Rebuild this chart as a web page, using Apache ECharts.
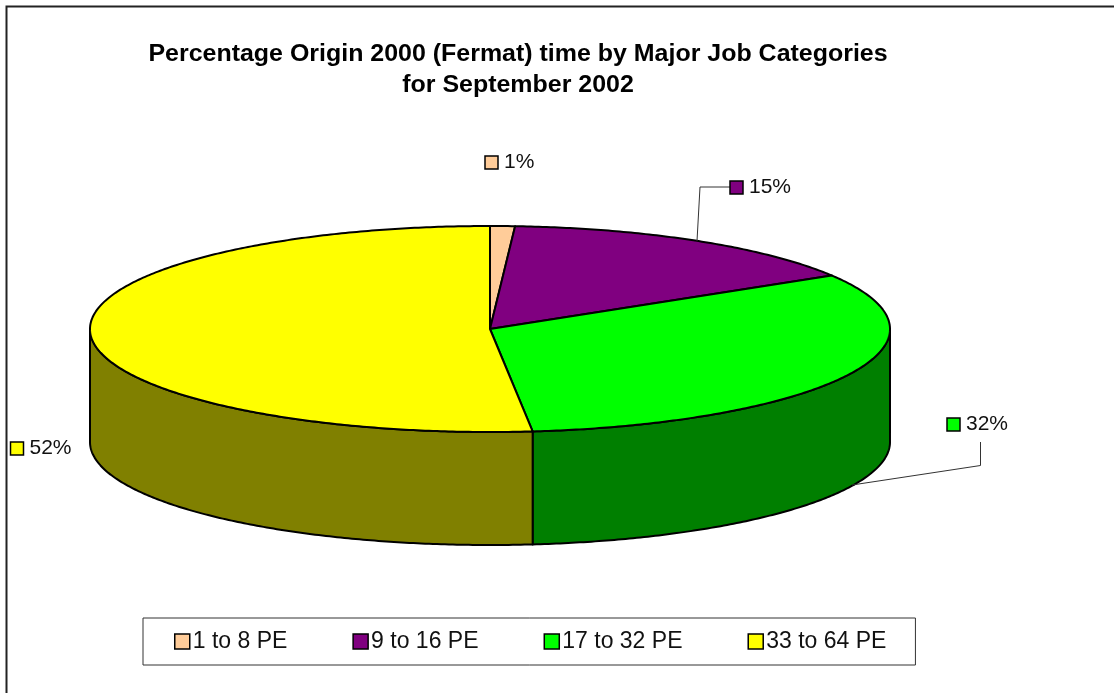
<!DOCTYPE html>
<html><head><meta charset="utf-8">
<style>html,body{margin:0;padding:0;background:#fff}#c{width:1114px;height:693px}</style>
<script src="https://cdn.jsdelivr.net/npm/echarts@6/dist/echarts.min.js"></script>
</head><body><div id="c"></div>
<script>
const categories = ['1 to 8 PE','9 to 16 PE','17 to 32 PE','33 to 64 PE'];
const values = [1.0, 15.3, 32.0, 51.7];
const percentLabels = ['1%','15%','32%','52%'];
const topColors = ['#FFCC99','#800080','#00FF00','#FFFF00'];
const wallColors = ['#7F6650','#400040','#007F00','#808000'];
const titleLines = ['Percentage Origin 2000 (Fermat) time by Major Job Categories','for September 2002'];

const cx=490, cy=329, rx=400, ry=103, depth=113;
const total = values.reduce((a,b)=>a+b,0);
let run=0;
const spans = values.map(v=>{const s=run/total*2*Math.PI; run+=v; return [s,run/total*2*Math.PI];});
const pt=(a,dy)=>[cx+rx*Math.sin(a), cy-ry*Math.cos(a)+(dy||0)];
function arc(a0,a1,dy){const n=Math.max(2,Math.ceil((a1-a0)/0.01));const o=[];for(let i=0;i<=n;i++)o.push(pt(a0+(a1-a0)*i/n,dy));return o;}
const labelPos=[[485,156],[730,181],[947,418],[10.5,442]];
const leaders=[null,[[730,187],[700,187],[697,241]],[[980.5,442],[980.5,465.5],[852,485]],null];

const series = categories.map((name,i)=>({
  type:'custom', name, coordinateSystem:'none', silent:true,
  itemStyle:{color:topColors[i],borderColor:'#000',borderWidth:1.5},
  data:[[values[i]]],
  renderItem(){
    const [a0,a1]=spans[i]; const children=[];
    const w0=Math.max(a0,Math.PI/2), w1=Math.min(a1,3*Math.PI/2);
    const line={stroke:'#000',lineWidth:2,lineJoin:'round'};
    if(w1>w0){
      const pts=arc(w0,w1,0).concat(arc(w0,w1,depth).reverse());
      children.push({type:'polygon',shape:{points:pts},style:{fill:wallColors[i],...line}});
    }
    children.push({type:'polygon',shape:{points:[[cx,cy]].concat(arc(a0,a1,0))},style:{fill:topColors[i],...line}});
    if(leaders[i])children.push({type:'polyline',shape:{points:leaders[i]},style:{fill:'none',stroke:'#333',lineWidth:1}});
    const [lx,ly]=labelPos[i];
    children.push({type:'rect',shape:{x:lx,y:ly,width:13,height:13},style:{fill:topColors[i],stroke:'#000',lineWidth:1.5}});
    children.push({type:'text',style:{x:lx+19,y:ly+6,text:percentLabels[i],fill:'#111',font:'21px "Liberation Sans"',verticalAlign:'middle',align:'left'}});
    return {type:'group',children};
  }
}));

const chart=echarts.init(document.getElementById('c'));
chart.setOption({
  animation:false,
  backgroundColor:'#fff',
  graphic:[
    {type:'polyline',z:-1,shape:{points:[[6.5,693],[6.5,6.5],[1114,6.5]]},style:{fill:'none',stroke:'#222',lineWidth:2}},
    {type:'text',x:518,y:55,scaleX:1.085,style:{x:0,y:0,text:titleLines[0],fill:'#000',font:'bold 23px "Liberation Sans"',align:'center',verticalAlign:'middle'}},
    {type:'text',x:518,y:86,scaleX:1.085,style:{x:0,y:0,text:titleLines[1],fill:'#000',font:'bold 23px "Liberation Sans"',align:'center',verticalAlign:'middle'}}
  ],
  legend:{
    left:143, top:618, orient:'horizontal',
    padding:[12,29,12,31], itemGap:65, itemWidth:15, itemHeight:15,
    backgroundColor:'#fff', borderColor:'#333', borderWidth:1, borderRadius:0,
    icon:'rect', itemStyle:{borderColor:'#000',borderWidth:1.5},
    textStyle:{fontFamily:'"Liberation Sans"',fontSize:23,color:'#111',padding:[0,0,0,-2]},
    data:categories
  },
  series
});
</script></body></html>
